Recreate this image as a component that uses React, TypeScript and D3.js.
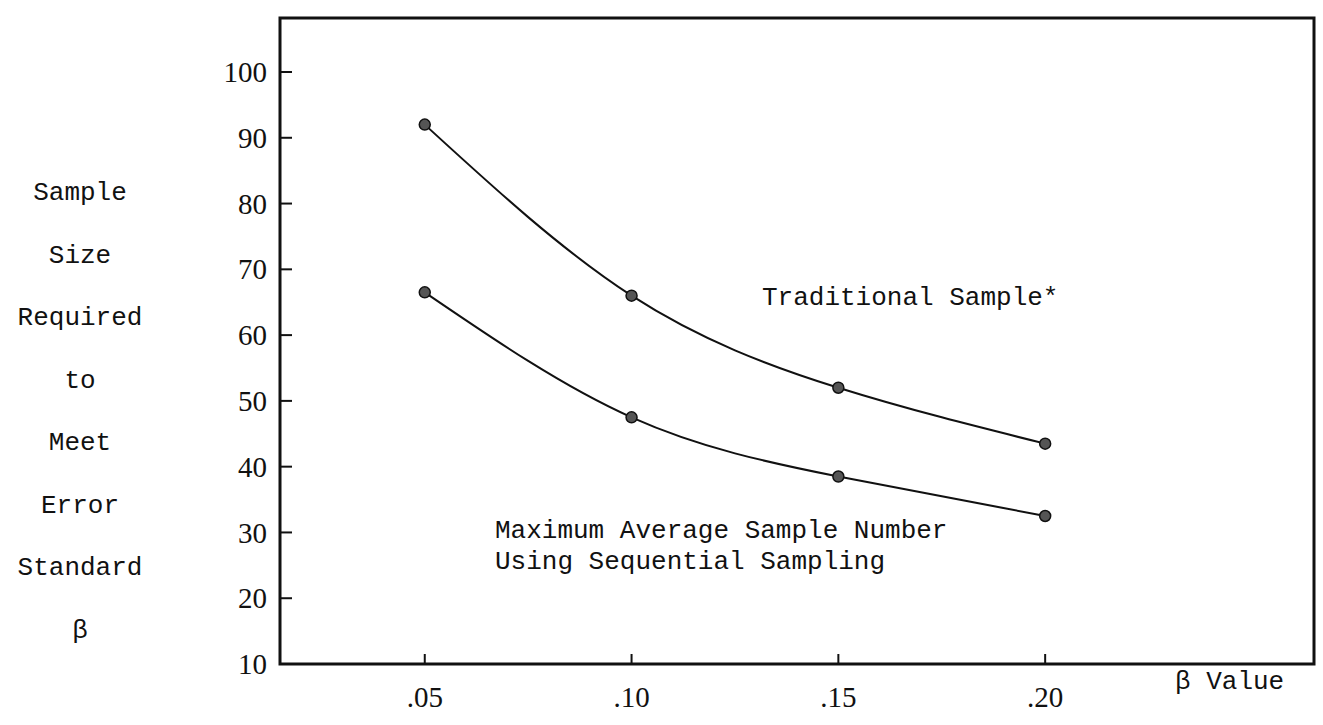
import React from 'react';
import * as d3 from 'd3';

// beta values on the x axis
const betaValues = [0.05, 0.1, 0.15, 0.2];
const betaLabels = ['.05', '.10', '.15', '.20'];

// sample sizes
const traditional = [92, 66, 52, 43.5];
const sequential = [66.5, 47.5, 38.5, 32.5];

const yTicks = [10, 20, 30, 40, 50, 60, 70, 80, 90, 100];
const yTitle = ['Sample', 'Size', 'Required', 'to', 'Meet', 'Error', 'Standard', 'β'];

const width = 1323;
const height = 725;
const frame = { left: 280, right: 1314, top: 18, bottom: 664 };

const mono = '"Liberation Mono", "DejaVu Sans Mono", monospace';
const serif = '"Liberation Serif", "DejaVu Serif", serif';

export default function App() {
  const x = d3.scaleLinear().domain([0.015, 0.265]).range([frame.left, frame.right]);
  const y = d3.scaleLinear().domain([10, 100]).range([frame.bottom, 72]);

  const line = d3
    .line<number>()
    .x((_, i) => x(betaValues[i]))
    .y(d => y(d))
    .curve(d3.curveNatural);

  const series = [traditional, sequential];

  return (
    <svg
      width={width}
      height={height}
      style={{ position: 'absolute', left: 0, top: 0, background: '#fff' }}
    >
      {/* frame */}
      <rect
        x={frame.left}
        y={frame.top}
        width={frame.right - frame.left}
        height={frame.bottom - frame.top}
        fill="none"
        stroke="#111"
        strokeWidth={3}
      />

      {/* y ticks + labels */}
      {yTicks.map(t => (
        <g key={t}>
          {t > 10 && (
            <line x1={frame.left} x2={frame.left + 12} y1={y(t)} y2={y(t)} stroke="#111" strokeWidth={2} />
          )}
          <text
            x={frame.left - 13}
            y={y(t)}
            dy="0.35em"
            textAnchor="end"
            fontFamily={serif}
            fontSize={29}
            fill="#111"
          >
            {t}
          </text>
        </g>
      ))}

      {/* x ticks + labels */}
      {betaValues.map((b, i) => (
        <g key={b}>
          <line x1={x(b)} x2={x(b)} y1={frame.bottom} y2={frame.bottom - 10} stroke="#111" strokeWidth={2} />
          <text
            x={x(b)}
            y={frame.bottom + 43}
            textAnchor="middle"
            fontFamily={serif}
            fontSize={29}
            fill="#111"
          >
            {betaLabels[i]}
          </text>
        </g>
      ))}

      <text x={1175} y={689} fontFamily={mono} fontSize={26} fill="#111">
        β Value
      </text>

      {/* y axis title, one word per row */}
      {yTitle.map((w, i) => (
        <text
          key={w}
          x={80}
          y={200 + i * 62.5}
          textAnchor="middle"
          fontFamily={mono}
          fontSize={26}
          fill="#111"
        >
          {w}
        </text>
      ))}

      {/* curves */}
      {series.map((s, si) => (
        <g key={si}>
          <path d={line(s) || ''} fill="none" stroke="#111" strokeWidth={2} />
          {s.map((v, i) => (
            <circle key={i} cx={x(betaValues[i])} cy={y(v)} r={5.5} fill="#555" stroke="#111" strokeWidth={1.5} />
          ))}
        </g>
      ))}

      {/* annotations */}
      <text x={762} y={305} fontFamily={mono} fontSize={26} fill="#111">
        Traditional Sample*
      </text>
      <text fontFamily={mono} fontSize={26} fill="#111">
        <tspan x={495} y={538}>Maximum Average Sample Number</tspan>
        <tspan x={495} y={569}>Using Sequential Sampling</tspan>
      </text>
    </svg>
  );
}
